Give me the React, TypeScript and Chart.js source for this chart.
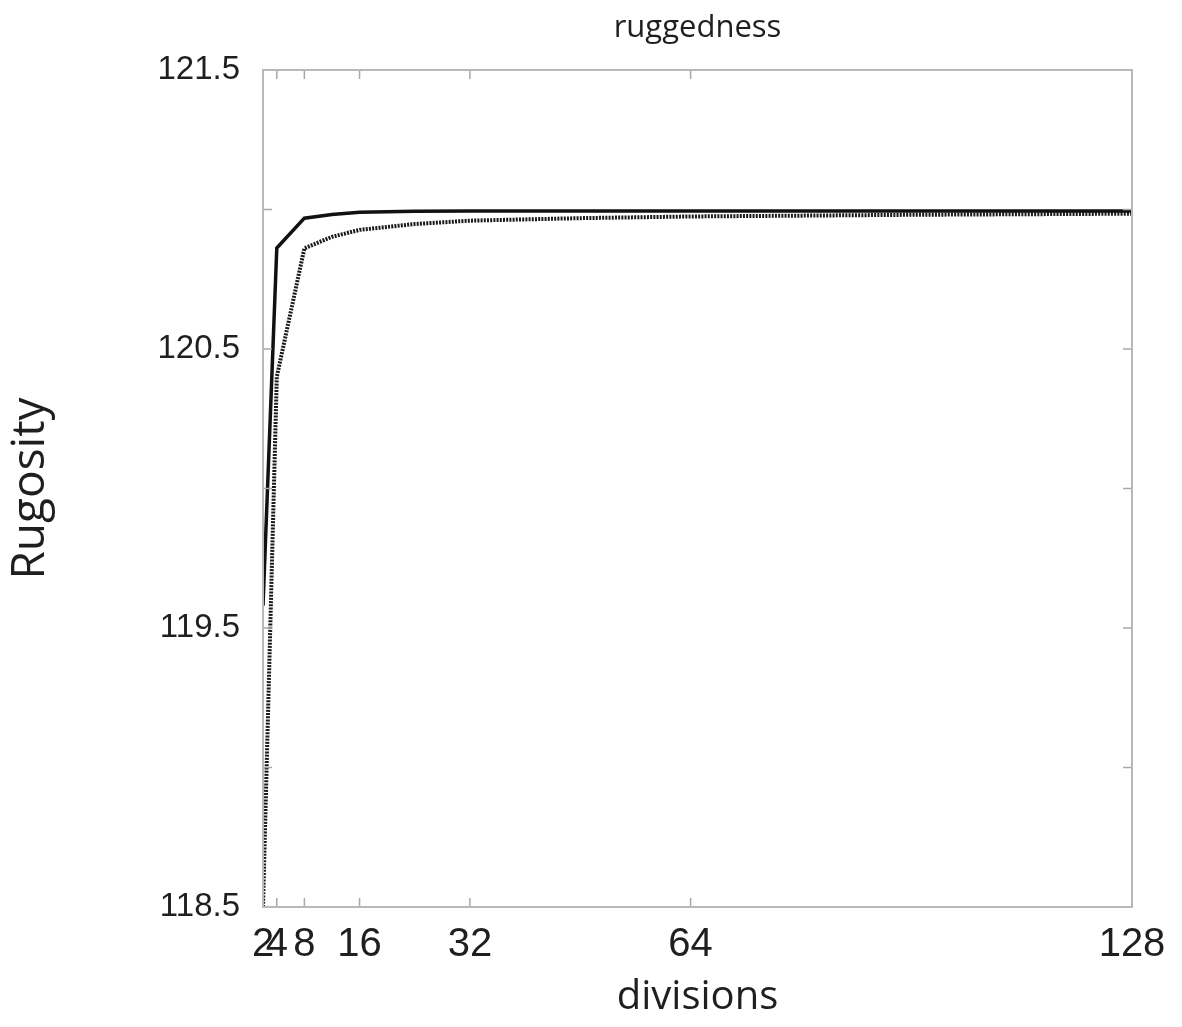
import { useEffect, useRef } from 'react';
import { Chart, registerables } from 'chart.js';

Chart.register(...registerables);

// ---- data ----
const xTickValues = [2, 4, 8, 16, 32, 64, 128];
const yTickValues = [118.5, 119, 119.5, 120, 120.5, 121, 121.5];
const yLabelValues = [118.5, 119.5, 120.5, 121.5];

const solidX = [2, 4, 8, 12, 16, 24, 32, 48, 64, 96, 128];
const solidY = [119.58, 120.862, 120.969, 120.982, 120.99, 120.994, 120.995, 120.995, 120.995, 120.995, 120.995];

const dottedX = [2, 4, 8, 12, 16, 24, 32, 48, 64, 96, 128];
const dottedY = [118.5, 120.4, 120.861, 120.902, 120.927, 120.948, 120.96, 120.969, 120.975, 120.981, 120.985];

const digitFont = "'Liberation Sans', Arial, sans-serif";
const sans = "'Open Sans', 'Noto Sans', sans-serif";

const frameAndTicks = {
  id: 'frameAndTicks',
  afterDatasetsDraw(chart: any) {
    const { ctx, chartArea } = chart;
    const { left, right, top, bottom } = chartArea;
    const xs = chart.scales.x;
    const ys = chart.scales.y;
    const len = 9;
    ctx.save();
    ctx.strokeStyle = '#a8a8a8';
    ctx.lineWidth = 1.5;
    ctx.beginPath();
    xTickValues.forEach((v) => {
      const px = xs.getPixelForValue(v);
      ctx.moveTo(px, bottom);
      ctx.lineTo(px, bottom - len);
      ctx.moveTo(px, top);
      ctx.lineTo(px, top + len);
    });
    yTickValues.forEach((v) => {
      const py = ys.getPixelForValue(v);
      ctx.moveTo(left, py);
      ctx.lineTo(left + len, py);
      ctx.moveTo(right, py);
      ctx.lineTo(right - len, py);
    });
    ctx.stroke();
    ctx.lineWidth = 2;
    ctx.strokeStyle = '#b8b8b8';
    ctx.strokeRect(left, top, right - left, bottom - top);
    ctx.restore();
  },
};

export default function App() {
  const ref = useRef<HTMLCanvasElement | null>(null);

  useEffect(() => {
    document.body.style.margin = '0';
    if (!ref.current) return;
    const chart = new Chart(ref.current, {
      type: 'line',
      data: {
        datasets: [
          {
            label: 'solid',
            data: solidX.map((x, i) => ({ x, y: solidY[i] })),
            borderColor: '#111111',
            borderWidth: 3.5,
            pointRadius: 0,
            tension: 0,
          },
          {
            label: 'dotted',
            data: dottedX.map((x, i) => ({ x, y: dottedY[i] })),
            borderColor: '#1a1a1a',
            borderWidth: 4,
            borderDash: [2, 1.2],
            pointRadius: 0,
            tension: 0,
          },
        ],
      },
      options: {
        responsive: false,
        animation: false,
        layout: { padding: { left: 0, right: 50, top: 0, bottom: 0 } },
        plugins: {
          legend: { display: false },
          tooltip: { enabled: false },
          title: { display: false },
        },
        scales: {
          top: {
            type: 'linear',
            position: 'top',
            min: 2,
            max: 128,
            afterFit: (scale: any) => {
              scale.height = 70;
            },
            grid: { display: false, drawTicks: false },
            border: { display: false },
            ticks: { display: false },
            title: {
              display: true,
              text: 'ruggedness',
              color: '#1f1f1f',
              font: { family: sans, size: 31, lineHeight: 1.2 },
              padding: { top: 10, bottom: 0 },
            },
          },
          x: {
            type: 'linear',
            position: 'bottom',
            min: 2,
            max: 128,
            afterBuildTicks: (scale: any) => {
              scale.ticks = xTickValues.map((v) => ({ value: v }));
            },
            afterFit: (scale: any) => {
              scale.height = 120;
            },
            grid: { display: false, drawTicks: false },
            border: { display: false },
            ticks: {
              autoSkip: false,
              maxRotation: 0,
              minRotation: 0,
              padding: 14,
              color: '#1f1f1f',
              font: { family: digitFont, size: 40 },
              callback: (v: any) => String(v),
            },
            title: {
              display: true,
              text: 'divisions',
              color: '#1f1f1f',
              font: { family: sans, size: 40, lineHeight: 1.2 },
              padding: { top: 0, bottom: 5 },
            },
          },
          y: {
            type: 'linear',
            min: 118.5,
            max: 121.5,
            afterBuildTicks: (scale: any) => {
              scale.ticks = yTickValues.map((v) => ({ value: v }));
            },
            afterFit: (scale: any) => {
              scale.width = 263;
            },
            grid: { display: false, drawTicks: false },
            border: { display: false },
            ticks: {
              autoSkip: false,
              padding: 23,
              color: '#1f1f1f',
              font: { family: digitFont, size: 33 },
              callback: (v: any) => (yLabelValues.includes(Number(v)) ? Number(v).toFixed(1) : ''),
            },
            title: {
              display: true,
              text: 'Rugosity',
              color: '#1f1f1f',
              font: { family: sans, size: 46, lineHeight: 1.2 },
              padding: { top: 3, bottom: 0 },
            },
          },
        },
      },
      plugins: [frameAndTicks],
    });
    return () => chart.destroy();
  }, []);

  return (
    <div style={{ width: 1182, height: 1027 }}>
      <canvas ref={ref} width={1182} height={1027} style={{ display: 'block' }} />
    </div>
  );
}
